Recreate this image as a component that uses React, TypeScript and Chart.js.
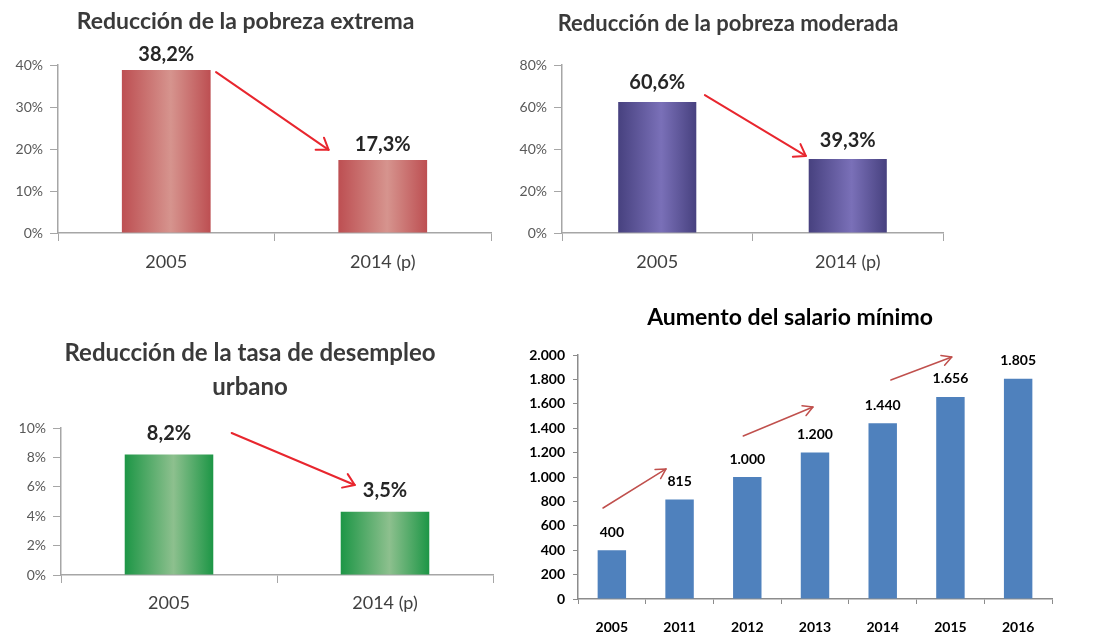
import { useEffect, useRef } from "react";
import { Chart, registerables } from "chart.js";

Chart.register(...registerables);

const FONT = "Lato, 'Open Sans', 'Noto Sans', sans-serif";
Chart.defaults.font.family = FONT;

// ---------- data ----------
const povertyYears = ["2005", "2014 (p)"];

const extremeValues = [38.8, 17.4];
const extremeLabels = ["38,2%", "17,3%"];
const extremeTicks = [0, 10, 20, 30, 40];
const extremeArrow = [[0.23, 38.3], [0.75, 19.8]];

const moderateValues = [62.4, 35.2];
const moderateLabels = ["60,6%", "39,3%"];
const moderateTicks = [0, 20, 40, 60, 80];
const moderateArrow = [[0.25, 65.7], [0.78, 36.7]];

const unemploymentValues = [8.2, 4.3];
const unemploymentLabels = ["8,2%", "3,5%"];
const unemploymentTicks = [0, 2, 4, 6, 8, 10];
const unemploymentArrow = [[0.29, 9.66], [0.86, 6.12]];

const wageYears = ["2005", "2011", "2012", "2013", "2014", "2015", "2016"];
const wageValues = [400, 815, 1000, 1200, 1440, 1656, 1805];
const wageLabels = ["400", "815", "1.000", "1.200", "1.440", "1.656", "1.805"];
const wageTicks = [0, 200, 400, 600, 800, 1000, 1200, 1400, 1600, 1800, 2000];
const wageArrows = [
  [[-0.13, 746], [0.8, 1066]],
  [[1.94, 1336], [2.97, 1574]],
  [[4.12, 1795], [5.02, 1984]],
];

// ---------- helpers ----------
const BAR_PCT = 0.41;

function gradientFill(edge: string, mid: string) {
  return (c: any) => {
    const chart = c.chart;
    const xs = chart.scales && chart.scales.x;
    if (!xs || !chart.chartArea || c.type !== "data") return edge;
    const cx = xs.getPixelForValue(c.dataIndex);
    const w = (xs.width / chart.data.labels.length) * BAR_PCT;
    const g = chart.ctx.createLinearGradient(cx - w / 2, 0, cx + w / 2, 0);
    g.addColorStop(0, edge);
    g.addColorStop(0.55, mid);
    g.addColorStop(1, edge);
    return g;
  };
}

function drawArrow(ctx: CanvasRenderingContext2D, x0: number, y0: number, x1: number, y1: number, color: string, width: number, head: number, spread: number) {
  ctx.save();
  ctx.strokeStyle = color;
  ctx.lineWidth = width;
  ctx.lineCap = "round";
  ctx.lineJoin = "round";
  ctx.beginPath();
  ctx.moveTo(x0, y0);
  ctx.lineTo(x1, y1);
  ctx.stroke();
  const a = Math.atan2(y1 - y0, x1 - x0);
  ctx.beginPath();
  ctx.moveTo(x1 - head * Math.cos(a - spread), y1 - head * Math.sin(a - spread));
  ctx.lineTo(x1, y1);
  ctx.lineTo(x1 - head * Math.cos(a + spread), y1 - head * Math.sin(a + spread));
  ctx.stroke();
  ctx.restore();
}

function overlay(labels: string[], offset: number, font: string, color: string, arrows: number[][][], arrowColor: string, arrowWidth: number, head: number, spread: number) {
  return {
    id: "overlay",
    afterDatasetsDraw(chart: any) {
      const ctx = chart.ctx;
      const meta = chart.getDatasetMeta(0);
      ctx.save();
      ctx.font = font;
      ctx.fillStyle = color;
      ctx.textAlign = "center";
      ctx.textBaseline = "middle";
      meta.data.forEach((bar: any, i: number) => {
        ctx.fillText(labels[i], bar.x, bar.y - offset);
      });
      ctx.restore();
      const xs = chart.scales.x;
      const ys = chart.scales.y;
      arrows.forEach(([p0, p1]) => {
        drawArrow(
          ctx,
          xs.getPixelForValue(p0[0]),
          ys.getPixelForValue(p0[1]),
          xs.getPixelForValue(p1[0]),
          ys.getPixelForValue(p1[1]),
          arrowColor,
          arrowWidth,
          head,
          spread
        );
      });
    },
  };
}

type Spec = {
  left: number;
  top: number;
  width: number;
  height: number;
  config: any;
};

function percentSpec(opts: {
  title: string | string[];
  titleSize: number;
  titleLineHeight: number | string;
  titlePadding: { top: number; bottom: number };
  labels: string[];
  values: number[];
  valueLabels: string[];
  ticks: number[];
  arrow: number[][];
  edge: string;
  mid: string;
  padLeft: number;
  padRight: number;
  yWidth: number;
  xHeight: number;
  xPad: number;
  labelOffset: number;
}) {
  const tickVals = opts.ticks;
  return {
    type: "bar",
    data: {
      labels: opts.labels,
      datasets: [
        {
          data: opts.values,
          backgroundColor: gradientFill(opts.edge, opts.mid),
          borderWidth: 0,
          categoryPercentage: 1,
          barPercentage: BAR_PCT,
        },
      ],
    },
    options: {
      responsive: false,
      animation: false,
      layout: { padding: { left: opts.padLeft, right: opts.padRight, top: 0, bottom: 0 } },
      plugins: {
        legend: { display: false },
        tooltip: { enabled: false },
        title: {
          display: true,
          text: opts.title,
          color: "#3a3a3a",
          font: { size: opts.titleSize, weight: "bold", lineHeight: opts.titleLineHeight },
          padding: opts.titlePadding,
        },
      },
      scales: {
        x: {
          grid: { drawOnChartArea: false, tickLength: 8, color: "#a6a6a6", offset: true },
          border: { color: "#a6a6a6", width: 1.5 },
          ticks: { color: "#404040", font: { size: 18 }, padding: opts.xPad },
          afterFit: (s: any) => {
            s.height = opts.xHeight;
          },
        },
        y: {
          min: tickVals[0],
          max: tickVals[tickVals.length - 1],
          afterBuildTicks: (s: any) => {
            s.ticks = tickVals.map((v) => ({ value: v }));
          },
          grid: { drawOnChartArea: false, tickLength: 8, color: "#a6a6a6" },
          border: { color: "#a6a6a6", width: 1.5 },
          ticks: {
            color: "#595959",
            font: { size: 14 },
            padding: 7,
            callback: (v: any) => v + "%",
          },
          afterFit: (s: any) => {
            s.width = opts.yWidth;
          },
        },
      },
    },
    plugins: [
      overlay(opts.valueLabels, opts.labelOffset, `bold 20px ${FONT}`, "#262626", [opts.arrow], "#e8262e", 2, 13, 0.6),
    ],
  };
}

const specs: Spec[] = [
  {
    left: 0,
    top: 0,
    width: 500,
    height: 290,
    config: percentSpec({
      title: "Reducción de la pobreza extrema",
      titleSize: 23,
      titleLineHeight: 1.2,
      titlePadding: { top: 8.2, bottom: 29.2 },
      labels: povertyYears,
      values: extremeValues,
      valueLabels: extremeLabels,
      ticks: extremeTicks,
      arrow: extremeArrow,
      edge: "#bd4f52",
      mid: "#d6948e",
      padLeft: 0,
      padRight: 9,
      yWidth: 58,
      xHeight: 57,
      xPad: 10,
      labelOffset: 15,
    }),
  },
  {
    left: 500,
    top: 0,
    width: 460,
    height: 290,
    config: percentSpec({
      title: "Reducción de la pobreza moderada",
      titleSize: 22,
      titleLineHeight: 1.2,
      titlePadding: { top: 10.8, bottom: 27.8 },
      labels: povertyYears,
      values: moderateValues,
      valueLabels: moderateLabels,
      ticks: moderateTicks,
      arrow: moderateArrow,
      edge: "#47417f",
      mid: "#7a70b8",
      padLeft: 13,
      padRight: 17,
      yWidth: 49,
      xHeight: 57,
      xPad: 10,
      labelOffset: 19,
    }),
  },
  {
    left: 0,
    top: 320,
    width: 510,
    height: 314,
    config: percentSpec({
      title: ["Reducción de la tasa de desempleo", "urbano"],
      titleSize: 24,
      titleLineHeight: "34px",
      titlePadding: { top: 16, bottom: 24 },
      labels: povertyYears,
      values: unemploymentValues,
      valueLabels: unemploymentLabels,
      ticks: unemploymentTicks,
      arrow: unemploymentArrow,
      edge: "#1d9646",
      mid: "#8dc08e",
      padLeft: 7,
      padRight: 17,
      yWidth: 54,
      xHeight: 59,
      xPad: 9,
      labelOffset: 21,
    }),
  },
  {
    left: 520,
    top: 290,
    width: 574,
    height: 344,
    config: {
      type: "bar",
      data: {
        labels: wageYears,
        datasets: [
          {
            data: wageValues,
            backgroundColor: "#4f81bd",
            borderWidth: 0,
            categoryPercentage: 1,
            barPercentage: 0.42,
          },
        ],
      },
      options: {
        responsive: false,
        animation: false,
        layout: { padding: { left: 8, right: 42, top: 0, bottom: 0 } },
        plugins: {
          legend: { display: false },
          tooltip: { enabled: false },
          title: {
            display: true,
            text: "Aumento del salario mínimo",
            color: "#000000",
            font: { size: 23, weight: "bold", lineHeight: 1.2 },
            padding: { top: 14.2, bottom: 23.2 },
          },
        },
        scales: {
          x: {
            grid: { drawOnChartArea: false, tickLength: 5, color: "#8c8c8c", offset: true },
            border: { color: "#8c8c8c", width: 1.5 },
            ticks: { color: "#000000", font: { size: 14, weight: "bold" }, padding: 15 },
            afterFit: (s: any) => {
              s.height = 35;
            },
          },
          y: {
            min: wageTicks[0],
            max: wageTicks[wageTicks.length - 1],
            afterBuildTicks: (s: any) => {
              s.ticks = wageTicks.map((v) => ({ value: v }));
            },
            grid: { drawOnChartArea: false, tickLength: 5, color: "#8c8c8c" },
            border: { color: "#8c8c8c", width: 1.5 },
            ticks: {
              color: "#000000",
              font: { size: 14, weight: "bold" },
              padding: 8,
              callback: (v: any) => String(v).replace(/\B(?=(\d{3})+(?!\d))/g, "."),
            },
            afterFit: (s: any) => {
              s.width = 50;
            },
          },
        },
      },
      plugins: [overlay(wageLabels, 18, `bold 14px ${FONT}`, "#000000", wageArrows, "#c0504d", 1.5, 11, 0.5)],
    },
  },
];

function ChartBox({ spec }: { spec: Spec }) {
  const ref = useRef<HTMLCanvasElement | null>(null);
  useEffect(() => {
    if (!ref.current) return;
    const chart = new Chart(ref.current, spec.config);
    return () => chart.destroy();
  }, [spec]);
  return (
    <div
      style={{
        position: "absolute",
        left: spec.left,
        top: spec.top,
        width: spec.width,
        height: spec.height,
      }}
    >
      <canvas ref={ref} width={spec.width} height={spec.height} style={{ display: "block" }} />
    </div>
  );
}

export default function App() {
  return (
    <div
      style={{
        position: "absolute",
        left: 0,
        top: 0,
        width: 1094,
        height: 634,
        background: "#ffffff",
        overflow: "hidden",
      }}
    >
      {specs.map((s, i) => (
        <ChartBox key={i} spec={s} />
      ))}
    </div>
  );
}
